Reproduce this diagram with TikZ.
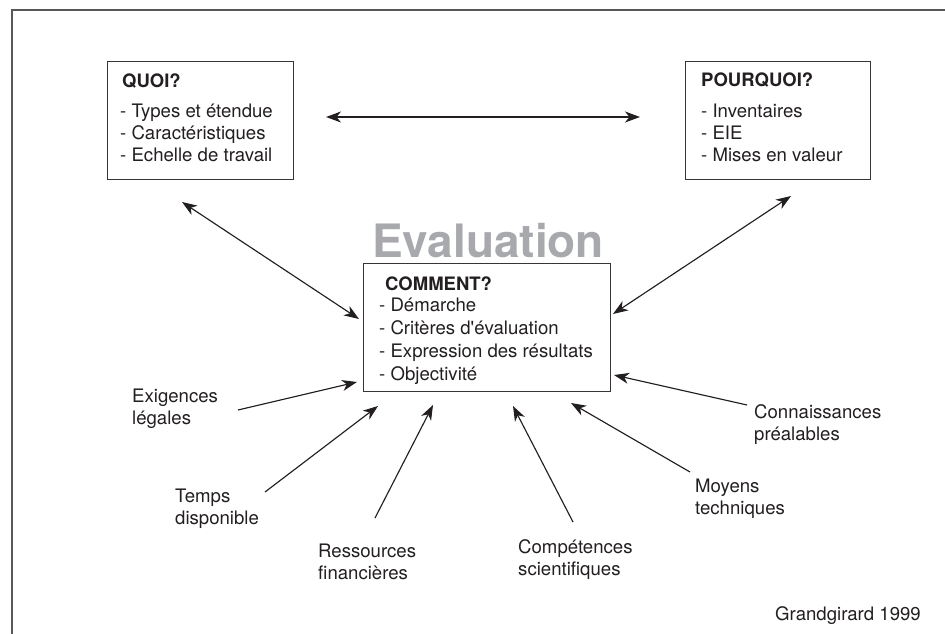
\documentclass[tikz,border=0pt]{standalone}
\usepackage{fontspec}
\setmainfont{TeX Gyre Heros}
\usetikzlibrary{arrows.meta}
\definecolor{ink}{HTML}{231F20}
\definecolor{framegray}{HTML}{58585A}
\definecolor{evalgray}{HTML}{A7A9AC}
\begin{document}
\begin{tikzpicture}[x=1pt,y=-1pt,
  % multi-line texts are placed by the baseline of their last line
  txt/.style={anchor=base west, inner sep=0pt, align=left, text=ink,
    font=\fontsize{18.6}{22}\selectfont},
  ttl/.style={anchor=base west, inner sep=0pt, text=ink,
    font=\fontsize{18.5}{22}\selectfont\bfseries},
  box/.style={draw=ink!90, line width=1.3pt, inner sep=0pt, anchor=north west},
  tip/.tip={Stealth[length=15pt,width=11pt,inset=4.5pt]},
  link/.style={draw=ink, line width=1.15pt, -tip},
  both/.style={draw=ink, line width=1.15pt, tip-tip}]
\useasboundingbox (0,0) rectangle (945,634);

% outer frame (left and top edges)
\draw[framegray, line width=1.4pt] (12,634) -- (12,10) -- (945,10);

% boxes
\node[box, minimum width=186pt, minimum height=118pt] (quoi) at (107,61) {};
\node[box, minimum width=185pt, minimum height=118pt] (pourquoi) at (685,61) {};
\node[box, minimum width=247pt, minimum height=128pt] (comment) at (363,263) {};

% box contents
\node[ttl] (quoiT) at (122,88) {QUOI?};
\node[txt] (quoiL) at (120,161) {- Types et étendue\\- Caractéristiques\\- Echelle de travail};
\node[ttl] (pourquoiT) at (701,87) {POURQUOI?};
\node[txt] (pourquoiL) at (701,161) {- Inventaires\\- EIE\\- Mises en valeur};
\node[ttl] (commentT) at (385,290) {COMMENT?};
\node[txt, font=\fontsize{18.6}{22.7}\selectfont] (commentL) at (379,380)
  {- Démarche\\- Critères d\textquotesingle évaluation\\- Expression des résultats\\- Objectivité};

% heading
\node[anchor=base, inner sep=0pt, text=evalgray,
  font=\fontsize{46}{50}\selectfont\bfseries] (eval) at (488,257) {Evaluation};

% influencing factors
\node[txt] (exi) at (132,424) {Exigences\\légales};
\node[txt] (tem) at (175,524) {Temps\\disponible};
\node[txt] (res) at (318,579) {Ressources\\financières};
\node[txt] (com) at (518,575) {Compétences\\scientifiques};
\node[txt] (moy) at (695,514) {Moyens\\techniques};
\node[txt] (con) at (754,440) {Connaissances\\préalables};
\node[txt] (src) at (775,620) {Grandgirard 1999};

% connector end points
\coordinate (qpA) at (326,117);   \coordinate (qpB) at (640,117);
\coordinate (qcA) at (182,202);   \coordinate (qcB) at (359,319);
\coordinate (pcA) at (791,196);   \coordinate (pcB) at (613,314);
\coordinate (exiA) at (238,410);  \coordinate (exiB) at (357,382);
\coordinate (temA) at (265,492);  \coordinate (temB) at (378,406);
\coordinate (resA) at (375,518);  \coordinate (resB) at (433,405);
\coordinate (comA) at (573,522);  \coordinate (comB) at (513,406);
\coordinate (moyA) at (690,472);  \coordinate (moyB) at (571,403);
\coordinate (conA) at (747,405);  \coordinate (conB) at (614,375);

% two-way links between the questions
\draw[both] (qpA) -- (qpB);
\draw[both] (qcA) -- (qcB);
\draw[both] (pcA) -- (pcB);

% factors acting on the method
\draw[link] (exiA) -- (exiB);
\draw[link] (temA) -- (temB);
\draw[link] (resA) -- (resB);
\draw[link] (comA) -- (comB);
\draw[link] (moyA) -- (moyB);
\draw[link] (conA) -- (conB);
\end{tikzpicture}
\end{document}
